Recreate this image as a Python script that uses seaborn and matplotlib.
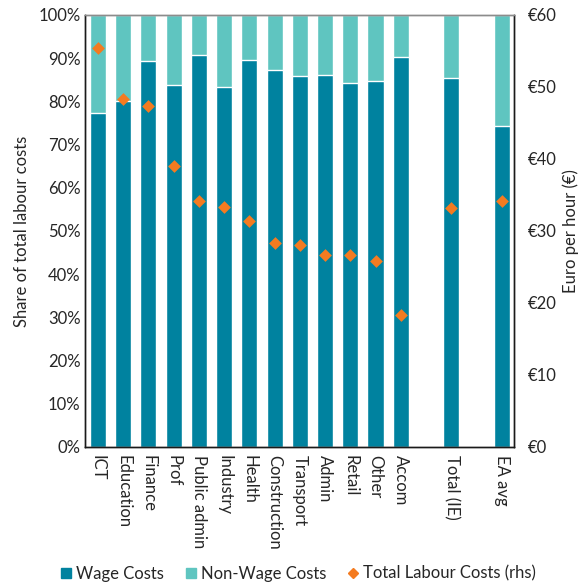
import matplotlib
matplotlib.use("Agg")
import matplotlib.pyplot as plt
from matplotlib.lines import Line2D
from matplotlib.ticker import PercentFormatter, FuncFormatter
import numpy as np
import pandas as pd
import seaborn as sns

sectors = ["ICT", "Education", "Finance", "Prof", "Public admin", "Industry",
           "Health", "Construction", "Transport", "Admin", "Retail", "Other",
           "Accom", "Total (IE)", "EA avg"]
wage_share = [77.2, 80.2, 89.4, 83.7, 90.7, 83.3, 89.6, 87.3, 85.8, 86.1,
              84.2, 84.8, 90.2, 85.5, 74.4]
non_wage_share = [100 - w for w in wage_share]
total_cost = [55.4, 48.3, 47.3, 39.0, 34.1, 33.4, 31.4, 28.4, 28.0, 26.6,
              26.6, 25.8, 18.3, 33.2, 34.2]

# slot order with empty gaps before the aggregates
order = sectors[:13] + [" "] + ["Total (IE)"] + ["  "] + ["EA avg"]

df = pd.DataFrame({
    "sector": sectors,
    "wage": wage_share,
    "non_wage": non_wage_share,
    "stack_top": [w + n for w, n in zip(wage_share, non_wage_share)],
    "total": total_cost,
})

wage_col = "#00829F"
nonwage_col = "#5FC5C0"
orange = "#F47B20"
text_col = "#262626"
fs = 12

sns.set_style("white")
plt.rcParams["font.family"] = ["Lato", "DejaVu Sans"]
plt.rcParams["font.size"] = fs

fig = plt.figure(figsize=(5.82, 5.85), dpi=100)
ax = fig.add_axes([0.1466, 0.2359, 0.7371, 0.7385])

sns.barplot(data=df, x="sector", y="stack_top", order=order, color=nonwage_col,
            width=0.64, saturation=1, ax=ax, errorbar=None)
sns.barplot(data=df, x="sector", y="wage", order=order, color=wage_col,
            width=0.64, saturation=1, ax=ax, errorbar=None)

ax.set_ylim(0, 100)
ax.set_xlim(-0.5, len(order) - 0.5)
ax.yaxis.set_major_locator(plt.MultipleLocator(10))
ax.yaxis.set_major_formatter(PercentFormatter(decimals=0))
ax.set_xlabel("")
ax.set_ylabel("Share of total labour costs", fontsize=fs, color=text_col, labelpad=6)
ax.tick_params(axis="both", length=0, labelsize=fs, colors=text_col)
ax.tick_params(axis="x", pad=6)
for lbl in ax.get_xticklabels():
    lbl.set_rotation(-90)
    lbl.set_va("top")
    lbl.set_ha("center")

ax2 = ax.twinx()
sns.stripplot(data=df, x="sector", y="total", order=order, color=orange,
              marker="D", size=6.5, jitter=False, ax=ax2, linewidth=0)
ax2.set_ylim(0, 60)
ax2.set_xlim(-0.5, len(order) - 0.5)
ax2.yaxis.set_major_locator(plt.MultipleLocator(10))
ax2.yaxis.set_major_formatter(FuncFormatter(lambda v, p: f"€{v:.0f}"))
ax2.set_ylabel("Euro per hour (€)", fontsize=fs, color=text_col, labelpad=4)
ax2.tick_params(axis="y", length=0, labelsize=fs, colors=text_col, pad=10)
ax2.set_xlabel("")

for a in (ax, ax2):
    for side in ("left", "right", "bottom"):
        a.spines[side].set_color("#1a1a1a")
        a.spines[side].set_linewidth(1.0)
    a.spines["top"].set_color("#8c8c8c")
    a.spines["top"].set_linewidth(1.0)

handles = [
    Line2D([], [], marker="s", linestyle="none", color=wage_col, markersize=7),
    Line2D([], [], marker="s", linestyle="none", color=nonwage_col, markersize=7),
    Line2D([], [], marker="D", linestyle="none", color=orange, markersize=5),
]
fig.legend(handles, ["Wage Costs", "Non-Wage Costs", "Total Labour Costs (rhs)"],
           loc="lower center", bbox_to_anchor=(0.51, -0.02), ncol=3, frameon=False,
           fontsize=fs, handletextpad=0.1, columnspacing=1.1, handlelength=1.0)

fig.savefig("out.png", dpi=100)
